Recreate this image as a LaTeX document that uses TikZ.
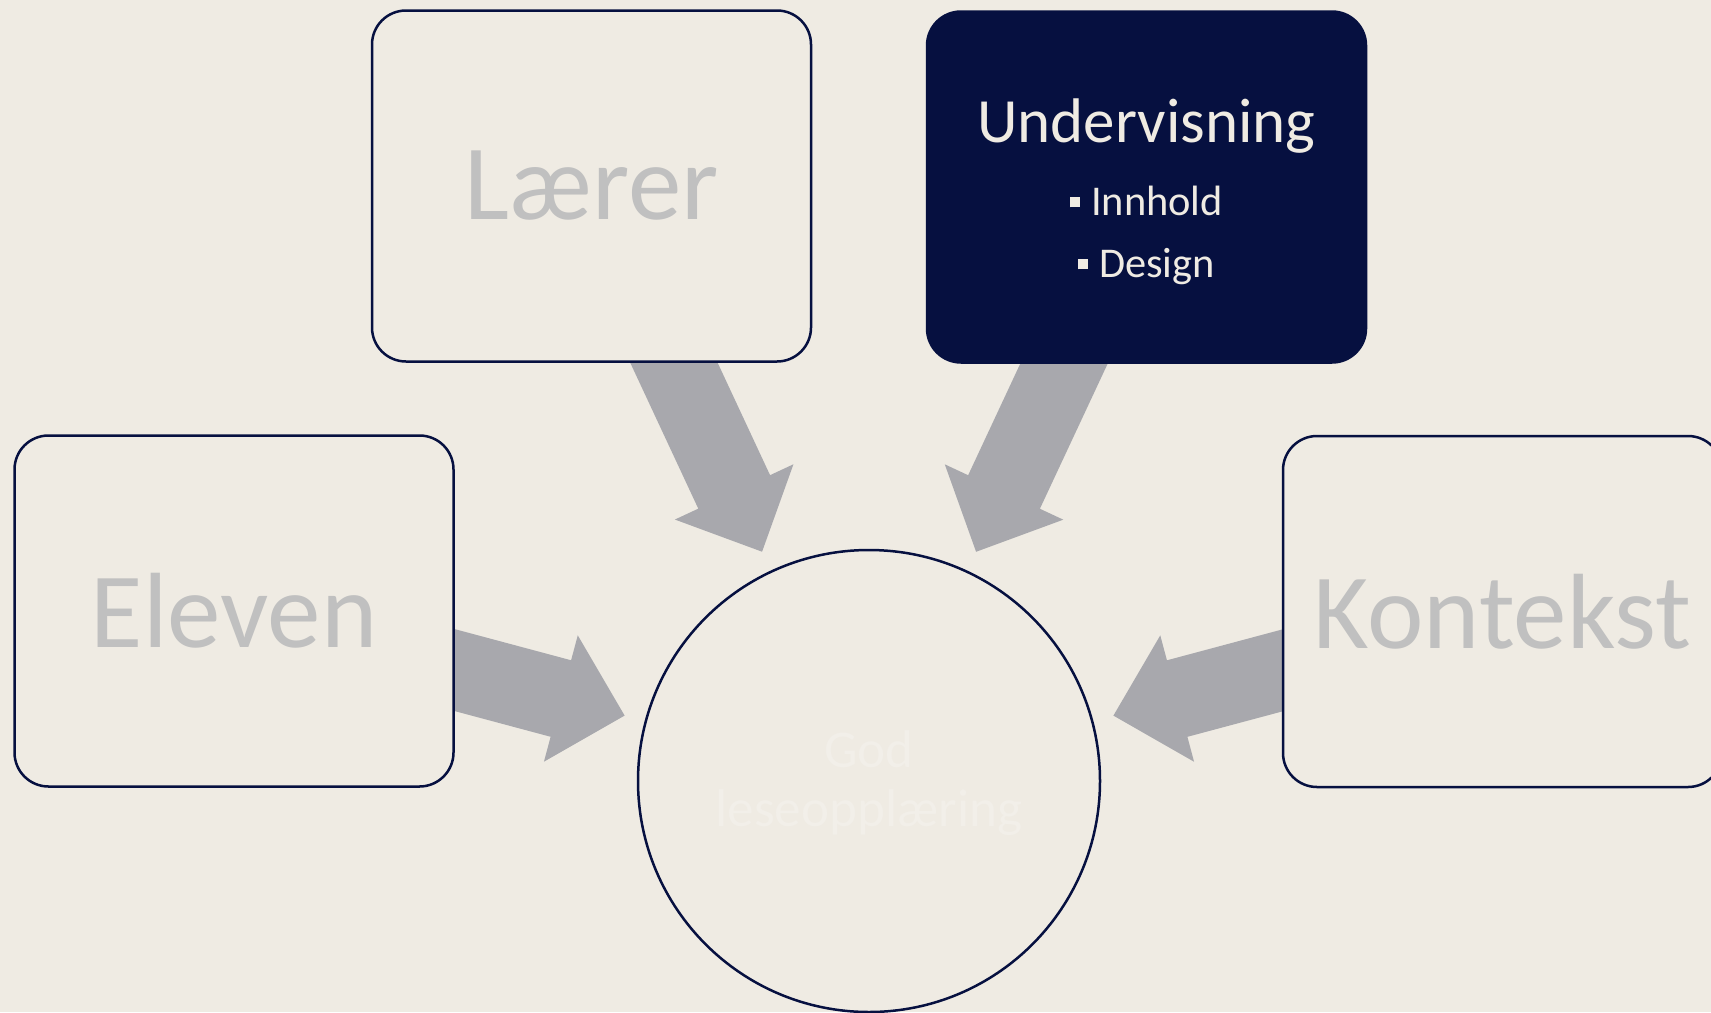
\documentclass[tikz,border=0pt]{standalone}
\usepackage{fontspec}
\setmainfont{Carlito}
\usetikzlibrary{calc,positioning}

\definecolor{paper}{HTML}{EFEBE3}
\definecolor{navy}{HTML}{061040}
\definecolor{shaftgray}{HTML}{A8A8AD}
\definecolor{labelgray}{HTML}{C0C0C0}
\definecolor{ghost}{HTML}{F2EFE9}

\pgfdeclarelayer{paperlayer}
\pgfdeclarelayer{arrowlayer}
\pgfsetlayers{paperlayer,arrowlayer,main}

\newcommand{\sqbullet}{\rule[4pt]{5pt}{5pt}\hspace{5.5pt}}

% block arrow from box #1 towards circle #2
\newcommand{\blockarrow}[2]{%
  \coordinate (tip) at ($(#2)!126.5pt!(#1)$);
  \coordinate (base) at ($(#2)!159.5pt!(#1)$);
  \fill[shaftgray] ($(#1)!19.8pt!90:(#2)$) -- ($(base)!19.8pt!-90:(#1)$)
    -- ($(base)!32.7pt!-90:(#1)$) -- (tip) -- ($(base)!32.7pt!90:(#1)$)
    -- ($(base)!19.8pt!90:(#1)$) -- ($(#1)!19.8pt!-90:(#2)$) -- cycle;
}

\begin{document}
\begin{tikzpicture}
    [x=0.5pt, y=-0.5pt,
    box/.style={rectangle, rounded corners=17pt, draw=navy, line width=1.25pt,
      minimum width=219.5pt, minimum height=175.5pt, inner sep=0pt},
    side/.style={box, fill=paper, text=labelgray, font=\fontsize{53.5}{60}\selectfont},
    focus/.style={box, fill=navy, text=paper, align=center,
      font=\fontsize{21.2}{31}\selectfont},
    hub/.style={circle, draw=navy, line width=1.25pt, minimum size=231pt,
      inner sep=0pt, text=ghost, align=center, font=\fontsize{26.6}{29.5}\selectfont}]

  \useasboundingbox (0,0) rectangle (1711,1012);
  \clip (0,0) rectangle (1711,1012);
  \begin{pgfonlayer}{paperlayer}
    \fill[paper] (0,0) rectangle (1711,1012);
  \end{pgfonlayer}

  \node[hub] (goal) at (869,781) {\rule{0pt}{21pt}God\\leseopplæring};
  \node[side] (laerer) at (591.5,186) {Lærer};
  \node[focus] (underv) at (1146.5,187) {\rule{0pt}{26.5pt}{\fontsize{31.5}{31}\selectfont Undervisning}\\[5.5pt]
    \sqbullet Innhold\\ \sqbullet Design};
  \node[side] (eleven) at (234,611) {Eleven};
  \node[side] (kontekst) at (1502.5,611.5) {Kontekst};

  \begin{pgfonlayer}{arrowlayer}
    \blockarrow{laerer}{goal}
    \blockarrow{underv}{goal}
    \blockarrow{eleven}{goal}
    \blockarrow{kontekst}{goal}
  \end{pgfonlayer}
\end{tikzpicture}
\end{document}
